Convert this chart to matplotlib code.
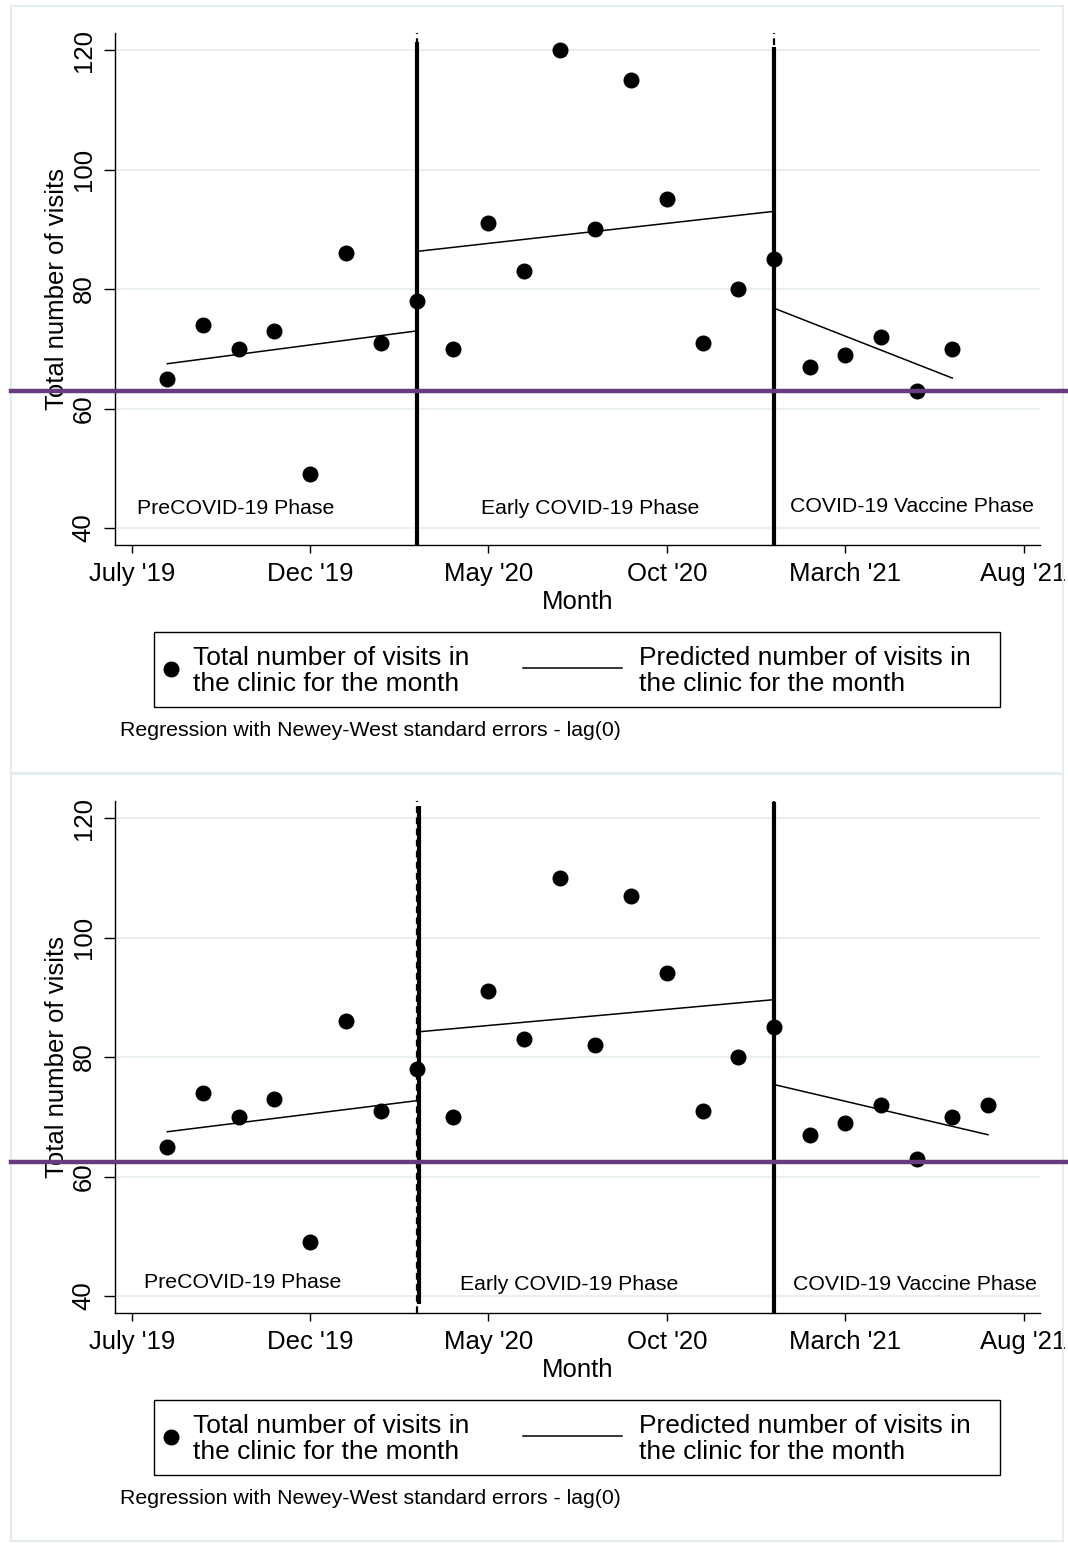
import matplotlib
matplotlib.use("Agg")
import matplotlib.pyplot as plt
import matplotlib.transforms as mtransforms
from matplotlib.lines import Line2D
from matplotlib.patches import Rectangle
import pandas as pd

plt.rcParams['font.family'] = ['Liberation Sans', 'DejaVu Sans']

# ---------------- data ----------------
months_top = ["2019-08", "2019-09", "2019-10", "2019-11", "2019-12", "2020-01", "2020-02",
              "2020-03", "2020-04", "2020-05", "2020-06", "2020-07", "2020-08", "2020-09",
              "2020-10", "2020-11", "2020-12", "2021-01", "2021-02", "2021-03", "2021-04",
              "2021-05", "2021-06"]
visits_top = [65, 74, 70, 73, 49, 86, 71, 78, 70, 91, 83, 120, 90, 115, 95, 71, 80, 85,
              67, 69, 72, 63, 70]

months_bottom = months_top + ["2021-07"]
visits_bottom = [65, 74, 70, 73, 49, 86, 71, 78, 70, 91, 83, 110, 82, 107, 94, 71, 80, 85,
                 67, 69, 72, 63, 70, 72]

# predicted (segmented regression) lines: (start month, end month, start value, end value)
fit_top = [("2019-08", "2020-03", 67.5, 73.0),
           ("2020-03", "2021-01", 86.3, 93.0),
           ("2021-01", "2021-06", 76.8, 65.1)]
fit_bottom = [("2019-08", "2020-03", 67.5, 72.7),
              ("2020-03", "2021-01", 84.2, 89.6),
              ("2021-01", "2021-07", 75.4, 67.0)]

phase_breaks = ["2020-03", "2021-01"]
ref_line_top = 63.0
ref_line_bottom = 62.35

tick_months = ["2019-07", "2019-12", "2020-05", "2020-10", "2021-03", "2021-08"]
tick_labels = ["July '19", "Dec '19", "May '20", "Oct '20", "March '21", "Aug '21"]
y_ticks = [40, 60, 80, 100, 120]
phase_labels = ["PreCOVID-19 Phase", "Early COVID-19 Phase", "COVID-19 Vaccine Phase"]
legend_labels = ["Total number of visits in\nthe clinic for the month",
                 "Predicted number of visits in\nthe clinic for the month"]
note = "Regression with Newey-West standard errors - lag(0)"

BASE = pd.Period("2019-07", "M")


def mi(m):
    return (pd.Period(m, "M") - BASE).n


# ---------------- figure ----------------
W, H = 1068, 1543
fig = plt.figure(figsize=(W / 100, H / 100), dpi=100)


def fx(px):
    return px / W


def fy(py):
    return 1 - py / H


PURPLE = "#683a7e"
GRID = "#e9f0f3"
FRAME = "#e6edf1"
FS = 18.5
FS_LEG = 19.0
FS_SMALL = 15.3


def panel(off, months, visits, fits, ref, phase_pos, break_style):
    # frame
    fig.add_artist(Rectangle((fx(11), fy(off + 773)), fx(1063) - fx(11), fy(off + 6) - fy(off + 773),
                             transform=fig.transFigure, fill=False, edgecolor=FRAME, lw=1.6))
    left, right, top, bottom = 115, 1040, off + 33, off + 545
    ax = fig.add_axes([fx(left), fy(bottom), fx(right) - fx(left), fy(top) - fy(bottom)])
    ax.set_xlim(-0.468, 25.46)
    ax.set_ylim(37.16, 122.85)
    for s in ["top", "right"]:
        ax.spines[s].set_visible(False)
    for s in ["left", "bottom"]:
        ax.spines[s].set_linewidth(1.0)
    ax.set_yticks(y_ticks)
    ax.set_yticklabels([str(v) for v in y_ticks], rotation=90, va="center", fontsize=FS)
    ax.set_xticks([mi(m) for m in tick_months])
    ax.set_xticklabels(tick_labels, fontsize=FS)
    ax.tick_params(axis="y", length=7.9, width=1.0, pad=6)
    ax.tick_params(axis="x", length=6, width=1.0, pad=6.5)
    ax.yaxis.grid(True, color=GRID, lw=1.5)
    ax.set_axisbelow(True)

    # phase break lines
    for i, b in enumerate(phase_breaks):
        xb = mi(b)
        ax.axvline(xb, color="black", lw=1.6, ls=(0, (3, 2)), zorder=2)
        st = break_style[i]
        ax.plot([xb + st[0], xb + st[0]], [st[1], st[2]], color="black", lw=3.0,
                solid_capstyle="butt", zorder=2)

    # points
    ax.plot([mi(m) for m in months], visits, "o", color="black", ms=10.5, zorder=4)
    # fitted
    for m0, m1, v0, v1 in fits:
        ax.plot([mi(m0), mi(m1)], [v0, v1], color="black", lw=1.1, zorder=3)

    # purple reference line across the whole figure width
    tr = mtransforms.blended_transform_factory(fig.transFigure, ax.transData)
    fig.add_artist(Line2D([fx(11), 1.0], [ref, ref], transform=tr, color=PURPLE, lw=3.2, zorder=5))

    # phase labels
    for lab, (px, py) in zip(phase_labels, phase_pos):
        fig.text(fx(px), fy(off + py), lab, ha="center", va="center", fontsize=FS_SMALL)

    # axis titles
    fig.text(fx(57), fy(off + 289), "Total number of visits", rotation=90, ha="center",
             va="center", fontsize=FS)
    fig.text(fx(577.5), fy(off + 602), "Month", ha="center", va="center", fontsize=FS)

    # legend
    fig.add_artist(Rectangle((fx(154), fy(off + 707)), fx(1000) - fx(154), fy(off + 632) - fy(off + 707),
                             transform=fig.transFigure, fill=False, edgecolor="black", lw=1.0))
    fig.add_artist(Line2D([fx(171)], [fy(off + 669)], transform=fig.transFigure, marker="o",
                          color="black", ms=10.5, ls="none"))
    fig.text(fx(193), fy(off + 671), legend_labels[0], ha="left", va="center", fontsize=FS_LEG,
             linespacing=1.15)
    fig.add_artist(Line2D([fx(523), fx(622)], [fy(off + 668), fy(off + 668)],
                          transform=fig.transFigure, color="black", lw=1.1))
    fig.text(fx(639), fy(off + 671), legend_labels[1], ha="left", va="center", fontsize=FS_LEG,
             linespacing=1.15)
    fig.text(fx(120), fy(off + 731), note, ha="left", va="center", fontsize=FS_SMALL)
    return ax


panel(0, months_top, visits_top, fit_top, ref_line_top,
      [(236, 509), (590, 509), (912, 507)],
      [(0.0, 37.16, 121.34), (0.0, 37.16, 120.5)])
panel(768, months_bottom, visits_bottom, fit_bottom, ref_line_bottom,
      [(243, 514), (569, 516), (915, 516)],
      [(0.065, 38.6, 122.0), (0.0, 37.16, 122.67)])

fig.savefig("out.png", dpi=100)
